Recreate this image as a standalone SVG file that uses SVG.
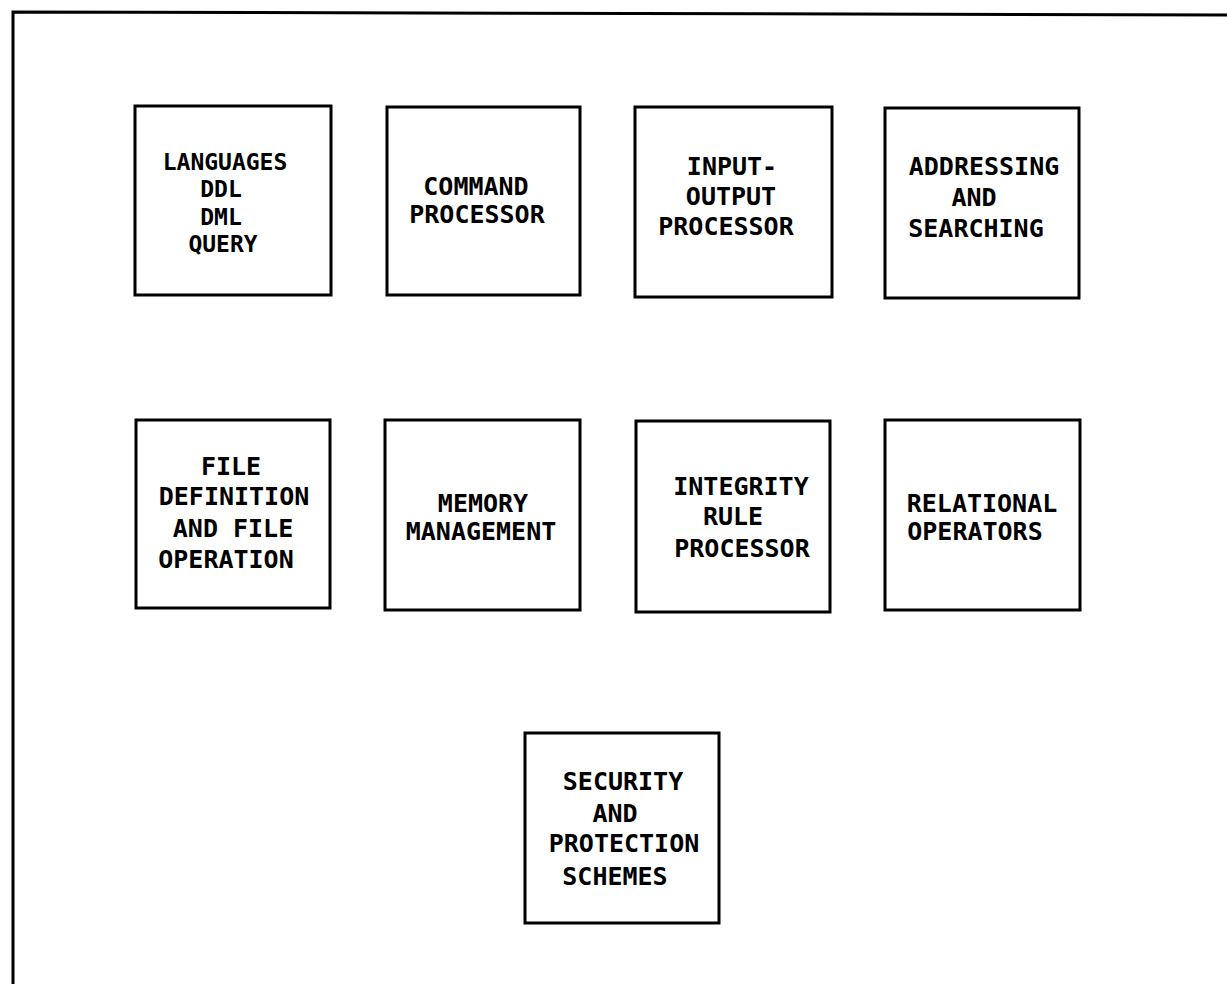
<svg xmlns="http://www.w3.org/2000/svg" width="1227" height="984" viewBox="0 0 1227 984">
<style>
.frame{fill:none;stroke:#000;stroke-width:3;stroke-linecap:square}
.box{fill:none;stroke:#000;stroke-width:3}
.t{font-family:"DejaVu Sans Mono","Liberation Mono",monospace;font-weight:bold;font-size:25px;fill:#000;text-anchor:middle}
.s{font-size:23px}
</style>
<rect x="0" y="0" width="1227" height="984" fill="#fff"/>
<g id="frame">
<path class="frame" d="M13,984 L13,12 L1227,15"/>
</g>
<g id="connectors"></g>
<g id="languages">
<rect class="box" x="135" y="106" width="196" height="189"/>
<text class="t s" x="225" y="170">LANGUAGES</text>
<text class="t s" x="221" y="197">DDL</text>
<text class="t s" x="221" y="225">DML</text>
<text class="t s" x="223" y="252">QUERY</text>
</g>
<g id="command-processor">
<rect class="box" x="387" y="107" width="193" height="188"/>
<text class="t" x="476" y="195">COMMAND</text>
<text class="t" x="477" y="223">PROCESSOR</text>
</g>
<g id="input-output-processor">
<rect class="box" x="635" y="107" width="197" height="190"/>
<text class="t" x="732" y="175">INPUT-</text>
<text class="t" x="731" y="205">OUTPUT</text>
<text class="t" x="726" y="235">PROCESSOR</text>
</g>
<g id="addressing-searching">
<rect class="box" x="885" y="108" width="194" height="190"/>
<text class="t" x="984" y="175">ADDRESSING</text>
<text class="t" x="974" y="206">AND</text>
<text class="t" x="976" y="237">SEARCHING</text>
</g>
<g id="file-definition">
<rect class="box" x="136" y="420" width="194" height="188"/>
<text class="t" x="231" y="475">FILE</text>
<text class="t" x="234" y="505">DEFINITION</text>
<text class="t" x="233" y="537">AND FILE</text>
<text class="t" x="226" y="568">OPERATION</text>
</g>
<g id="memory-management">
<rect class="box" x="385" y="420" width="195" height="190"/>
<text class="t" x="483" y="512">MEMORY</text>
<text class="t" x="481" y="540">MANAGEMENT</text>
</g>
<g id="integrity-rule-processor">
<rect class="box" x="636" y="421" width="194" height="191"/>
<text class="t" x="741" y="495">INTEGRITY</text>
<text class="t" x="733" y="525">RULE</text>
<text class="t" x="742" y="557">PROCESSOR</text>
</g>
<g id="relational-operators">
<rect class="box" x="885" y="420" width="195" height="190"/>
<text class="t" x="982" y="512">RELATIONAL</text>
<text class="t" x="975" y="540">OPERATORS</text>
</g>
<g id="security-protection">
<rect class="box" x="525" y="733" width="194" height="190"/>
<text class="t" x="623" y="790">SECURITY</text>
<text class="t" x="615" y="822">AND</text>
<text class="t" x="624" y="852">PROTECTION</text>
<text class="t" x="615" y="885">SCHEMES</text>
</g>
</svg>
